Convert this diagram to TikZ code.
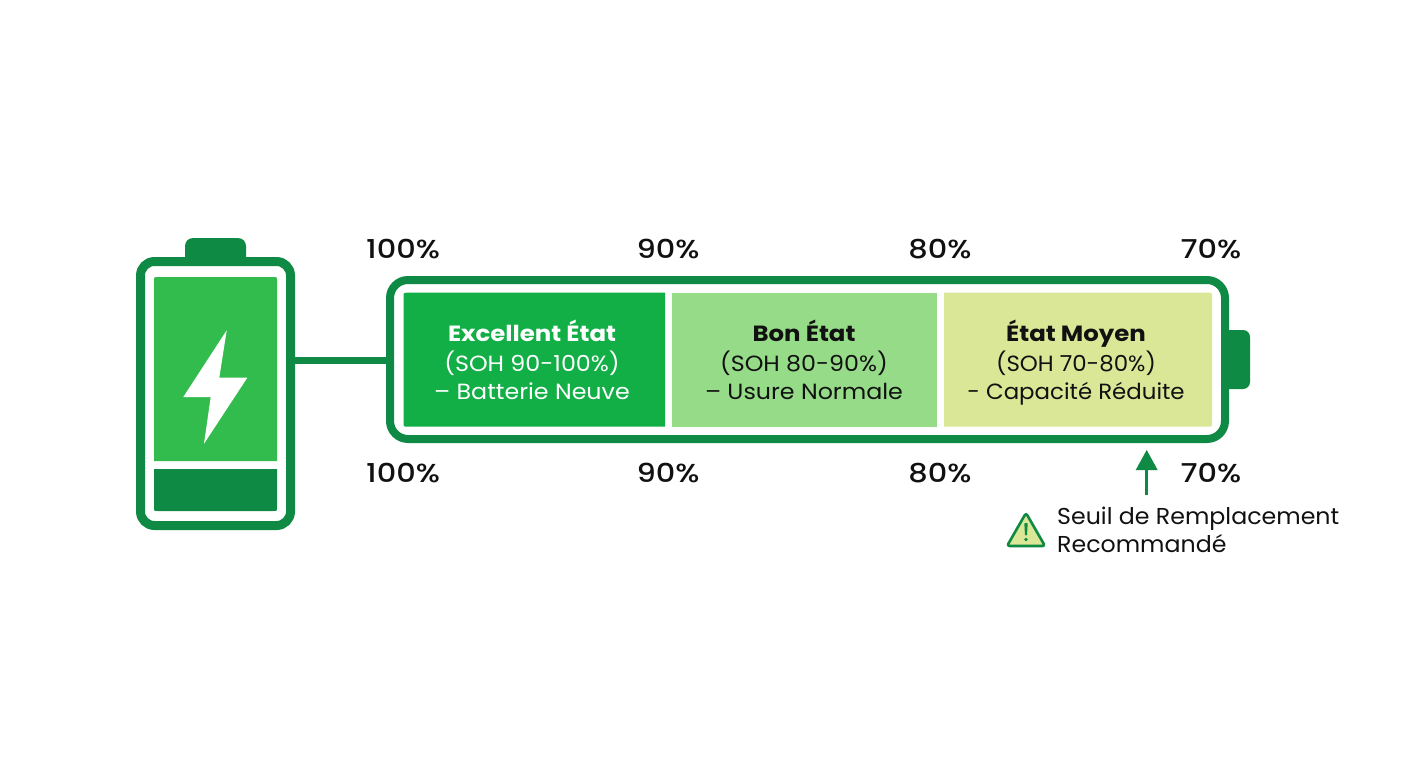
\documentclass[tikz,border=0pt]{standalone}
\usepackage{fontspec}
\setmainfont{Poppins}
\newfontfamily\bodyf[FakeStretch=1.08,BoldFeatures={FakeStretch=1.11}]{Poppins}
\newfontfamily\capf[FakeStretch=1.04,BoldFeatures={FakeStretch=1.11}]{Poppins}
\newfontfamily\pctf[UprightFont=* Medium,FakeStretch=1.17]{Poppins}
\newfontfamily\seuilf[FakeStretch=1.03]{Poppins}
\definecolor{dkgreen}{HTML}{0F8A45}
\definecolor{fillgreen}{HTML}{33BC4E}
\definecolor{segA}{HTML}{12AF46}
\definecolor{segB}{HTML}{96DB88}
\definecolor{segC}{HTML}{D9E796}
\definecolor{ink}{HTML}{111111}
\tikzset{
  x=1pt,y=-1pt,
  pct/.style={font=\pctf\fontsize{26}{28}\selectfont,text=ink,inner sep=0pt,anchor=center},
  segtext/.style={font=\bodyf\fontsize{22}{28}\selectfont,align=center,inner sep=0pt,anchor=center},
  frame/.style={draw=dkgreen,fill=white,inner sep=0pt,outer sep=0pt},
  link/.style={draw=dkgreen,line width=7pt},
}
\begin{document}
\begin{tikzpicture}
\useasboundingbox (0,0) rectangle (1408,768);
\fill[white] (0,0) rectangle (1408,768);
% left battery
\fill[dkgreen,rounded corners=8pt] (185,270) -- (185,238) -- (246,238) -- (246,270) -- cycle;
\node[frame,rounded corners=14pt,line width=9pt,minimum width=150pt,minimum height=264pt] (bat) at (215.5,393.5) {};
\fill[fillgreen] (154,461) -- (154,280) .. controls (154,277) .. (157,277) -- (274,277) .. controls (277,277) .. (277,280) -- (277,461) -- cycle;
\fill[dkgreen] (154,469) -- (154,507) .. controls (154,511) .. (158,511) -- (273,511) .. controls (277,511) .. (277,507) -- (277,469) -- cycle;
\fill[white] (226.7,330.3) -- (183.3,397) -- (210.7,397) -- (204,443.7) -- (247.3,377.7) -- (219.3,377.7) -- cycle;
% right terminal
\fill[dkgreen,rounded corners=7pt] (1215,330) -- (1250,330) -- (1250,389) -- (1215,389) -- cycle;
% main bar
\node[frame,rounded corners=18pt,line width=8pt,minimum width=835pt,minimum height=159pt] (bar) at (807.5,359.5) {};
\coordinate (batport) at (bat.east |- 0,360);
\coordinate (barport) at (bar.west |- 0,360);
\draw[link] (batport) -- (barport);
% segments
\fill[segA] (665,292.7) -- (408,292.7) .. controls (403.5,292.7) .. (403.5,297.2) -- (403.5,422.2) .. controls (403.5,426.7) .. (408,426.7) -- (665,426.7) -- cycle;
\fill[segB] (672,292.7) rectangle (937,426.7);
\fill[segC] (944,292.7) -- (1207.5,292.7) .. controls (1212,292.7) .. (1212,297.2) -- (1212,422.2) .. controls (1212,426.7) .. (1207.5,426.7) -- (944,426.7) -- cycle;
\node[segtext,text=white] (tA) at (532,364) {\strut\textbf{Excellent État}\\(SOH 90-100\%)\\\strut– Batterie Neuve};
\node[segtext,text=ink] (tB) at (804,364) {\strut\textbf{Bon État}\\(SOH 80-90\%)\\\strut– Usure Normale};
\node[segtext,text=ink,font=\capf\fontsize{22}{28}\selectfont] (tC) at (1076,364) {\strut\textbf{État Moyen}\\(SOH 70-80\%)\\\strut- Capacité Réduite};
% percent labels
\node[pct] (t100) at (403,249) {100\%};
\node[pct] (t90) at (668,249) {90\%};
\node[pct] (t80) at (940,249) {80\%};
\node[pct] (t70) at (1211,249) {70\%};
\node[pct] (b100) at (403,473) {100\%};
\node[pct] (b90) at (668,473) {90\%};
\node[pct] (b80) at (940,473) {80\%};
\node[pct] (b70) at (1211,473) {70\%};
% threshold
\node[font=\seuilf\fontsize{23}{28}\selectfont,text=ink,align=left,anchor=west,inner sep=0pt] (seuil) at (1057,533) {\strut Seuil de Remplacement\\\strut Recommandé};
\coordinate (arrowtip) at (1146.7,450);
\coordinate (arrowbase) at (1146.7,495);
\draw[dkgreen,line width=3pt] (arrowbase) -- (1146.7,468);
\fill[dkgreen] (arrowtip) -- (1157.7,470) -- (1135.7,470) -- cycle;
% warning
\draw[dkgreen,fill=segC,line width=2.6pt,rounded corners=2.5pt,line join=round] (1026,513) -- (1045,546) -- (1007,546) -- cycle;
\fill[dkgreen,rounded corners=.8pt] (1024.3,523) -- (1027.7,523) -- (1027,535.5) -- (1025,535.5) -- cycle;
\fill[dkgreen] (1026,539.5) circle (1.9);
\end{tikzpicture}
\end{document}
